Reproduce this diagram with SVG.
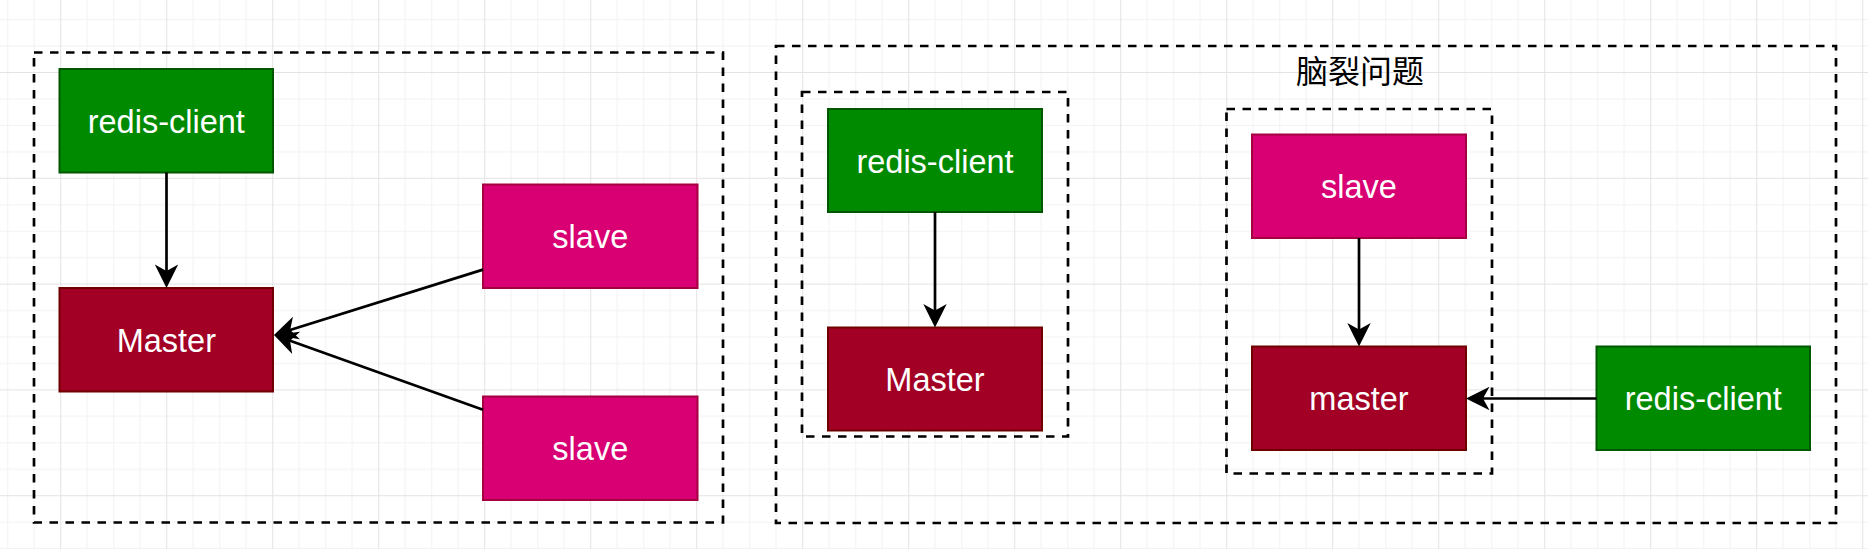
<svg xmlns="http://www.w3.org/2000/svg" width="1868" height="549" viewBox="0 0 1868 549">
  <defs>
    <pattern id="grid" patternUnits="userSpaceOnUse" x="60.2" y="72" width="106" height="105.8">
      <rect x="0" y="0" width="106" height="105.8" fill="#ffffff"/>
      <g fill="#f2f2f2">
        <rect x="26.5" y="0" width="1" height="105.8"/>
        <rect x="53" y="0" width="1" height="105.8"/>
        <rect x="79.5" y="0" width="1" height="105.8"/>
        <rect x="0" y="26.45" width="106" height="1"/>
        <rect x="0" y="52.9" width="106" height="1"/>
        <rect x="0" y="79.35" width="106" height="1"/>
      </g>
      <g fill="#e3e3e3">
        <rect x="0" y="0" width="1" height="105.8"/>
        <rect x="0" y="0" width="106" height="1"/>
      </g>
    </pattern>
    <marker id="arrow" markerUnits="userSpaceOnUse" viewBox="0 0 24 24" markerWidth="24" markerHeight="24" refX="17.5" refY="12" orient="auto" overflow="visible">
      <path d="M0,0.3 L23.5,12 L0,23.7 L6.5,12 Z" fill="#000000"/>
    </marker>
    <style>
      .frame { fill: none; stroke: #000000; stroke-width: 2.7; stroke-dasharray: 8.5 7.5; }
      .client { fill: #008a00; stroke: #005700; stroke-width: 2; }
      .master { fill: #a20025; stroke: #6f0000; stroke-width: 2; }
      .slave { fill: #d80073; stroke: #a50040; stroke-width: 2; }
      .lbl { fill: #ffffff; font-family: "Liberation Sans", Arial, Helvetica, sans-serif; font-size: 32.5px; text-anchor: middle; }
      .title { fill: #000000; font-family: "Noto Sans CJK SC", "Noto Sans", sans-serif; font-size: 32px; text-anchor: middle; }
      .edge { fill: none; stroke: #000000; stroke-width: 2.7; marker-end: url(#arrow); }
    </style>
  </defs>

  <rect x="0" y="0" width="1868" height="549" fill="url(#grid)"/>

  <!-- frames -->
  <g id="frame-left">
    <rect class="frame" x="34" y="52.5" width="689" height="470"/>
  </g>
  <g id="frame-split">
    <rect class="frame" x="776" y="46" width="1060" height="477"/>
    <text class="title" x="1360" y="83">脑裂问题</text>
  </g>
  <g id="frame-split-a">
    <rect class="frame" x="802" y="92" width="266" height="344.5"/>
  </g>
  <g id="frame-split-b">
    <rect class="frame" x="1226.5" y="109" width="265.5" height="364.5"/>
  </g>

  <!-- left panel nodes -->
  <g id="client-1">
    <rect class="client" x="59.5" y="69" width="213.5" height="103.5"/>
    <text class="lbl" x="166.3" y="132.7">redis-client</text>
  </g>
  <g id="master-1">
    <rect class="master" x="59.5" y="288" width="213.5" height="103.5"/>
    <text class="lbl" x="166.3" y="351.7">Master</text>
  </g>
  <g id="slave-1">
    <rect class="slave" x="483" y="184.5" width="214.5" height="103.5"/>
    <text class="lbl" x="590.3" y="248.2">slave</text>
  </g>
  <g id="slave-2">
    <rect class="slave" x="483" y="396.5" width="214.5" height="103.5"/>
    <text class="lbl" x="590.3" y="460.2">slave</text>
  </g>

  <!-- split-brain panel nodes -->
  <g id="client-2">
    <rect class="client" x="828" y="109" width="214" height="103"/>
    <text class="lbl" x="935" y="172.5">redis-client</text>
  </g>
  <g id="master-2">
    <rect class="master" x="828" y="327.5" width="214" height="103"/>
    <text class="lbl" x="935" y="391">Master</text>
  </g>
  <g id="slave-3">
    <rect class="slave" x="1252" y="134.5" width="214" height="103.5"/>
    <text class="lbl" x="1359" y="198.2">slave</text>
  </g>
  <g id="master-3">
    <rect class="master" x="1252" y="346.5" width="214" height="103.5"/>
    <text class="lbl" x="1359" y="410.2">master</text>
  </g>
  <g id="client-3">
    <rect class="client" x="1596.5" y="346.5" width="213.5" height="103.5"/>
    <text class="lbl" x="1703.3" y="410.2">redis-client</text>
  </g>

  <!-- connectors -->
  <g id="connectors">
    <path class="edge" d="M166.5,172.5 L166.5,282"/>
    <path class="edge" d="M483,269.6 L279.7,333.2"/>
    <path class="edge" d="M483,409.7 L279.65,337"/>
    <path class="edge" d="M935,212 L935,321.5"/>
    <path class="edge" d="M1359,238 L1359,340.5"/>
    <path class="edge" d="M1596.5,398.5 L1472,398.5"/>
  </g>
</svg>
